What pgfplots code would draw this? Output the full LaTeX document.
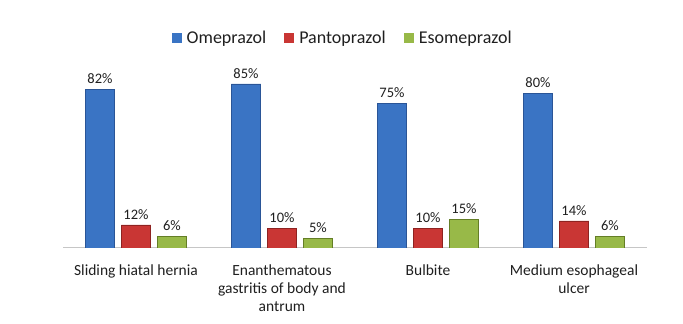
\documentclass[border=0pt]{standalone}
\usepackage{pgfplots}
\pgfplotsset{compat=1.18}
\usepackage{fontspec}
\setmainfont{Carlito}
\definecolor{bluemid}{HTML}{3A74C4}
\definecolor{blueedge}{HTML}{2A5597}
\definecolor{redmid}{HTML}{C93634}
\definecolor{rededge}{HTML}{8E2321}
\definecolor{greenmid}{HTML}{98B948}
\definecolor{greenedge}{HTML}{647E26}
\definecolor{txt}{HTML}{1F1F1F}
\begin{document}
\begin{tikzpicture}
\path[use as bounding box] (0,0) rectangle (683pt,324pt);
\begin{axis}[
  at={(63pt,76pt)}, anchor=south west,
  scale only axis, width=584pt, height=193pt,
  xmin=-0.5, xmax=3.5, ymin=0, ymax=100,
  ybar=6.5pt, bar width=29.5pt,
  axis x line*=bottom, axis y line=none,
  x axis line style={draw=gray!45, line width=1pt, -},
  xtick={0,1,2,3},
  xticklabels={Sliding hiatal hernia, Enanthematous\\gastritis of body and\\antrum, Bulbite, Medium esophageal\\ulcer},
  major tick length=0pt,
  xticklabel style={align=center, text=txt, font=\fontsize{15.5}{18}\selectfont, yshift=-13pt},
  /pgf/number format/assume math mode=true,
  nodes near coords={\pgfmathprintnumber{\pgfplotspointmeta}\%},
  nodes near coords style={font=\fontsize{14.5}{17}\selectfont, text=txt, yshift=2pt},
  legend columns=3,
  legend style={at={(0.479,1.088)}, anchor=center, draw=none, fill=none,
    font=\fontsize{18}{21}\selectfont, text=txt,
    /tikz/every even column/.append style={column sep=16pt},
    nodes={inner sep=2pt}},
  legend image code/.code={\draw[#1, draw=none] (0pt,-5pt) rectangle (10pt,5pt);},
]
\addplot[draw=blueedge, line width=0.6pt, fill=bluemid]
  coordinates {(0,82) (1,85) (2,75) (3,80)};
\addplot[draw=rededge, line width=0.6pt, fill=redmid]
  coordinates {(0,12) (1,10) (2,10) (3,14)};
\addplot[draw=greenedge, line width=0.6pt, fill=greenmid]
  coordinates {(0,6) (1,5) (2,15) (3,6)};
\legend{\hspace{3pt}Omeprazol, \hspace{3pt}Pantoprazol, \hspace{3pt}Esomeprazol}
\end{axis}
\end{tikzpicture}
\end{document}
